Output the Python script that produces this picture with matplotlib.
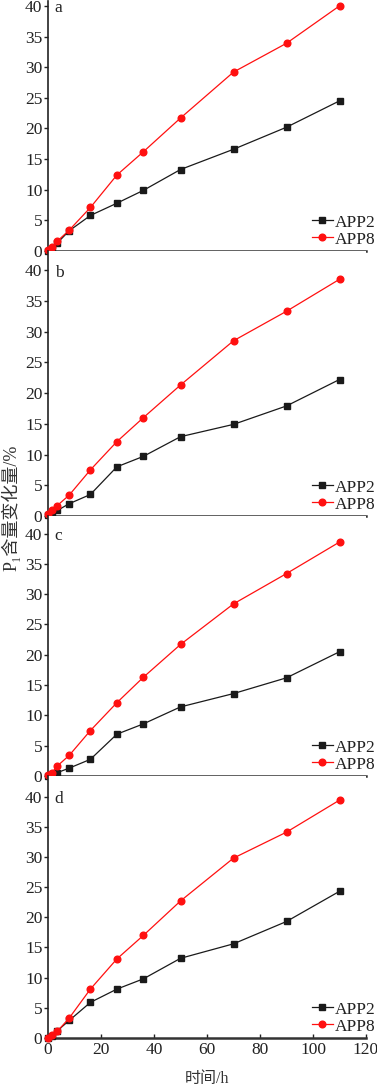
import matplotlib
matplotlib.use("Agg")
import matplotlib.pyplot as plt

plt.rcParams['font.family'] = ['Liberation Serif', 'Noto Sans CJK SC', 'DejaVu Sans']

hours = [0, 1.5, 3.5, 8, 16, 26, 36, 50, 70, 90, 110]
panel_labels = ['a', 'b', 'c', 'd']

app2 = [
    [0.0, 0.3, 1.3, 3.3, 5.8, 7.8, 9.9, 13.3, 16.6, 20.2, 24.5],
    [0.2, 0.4, 0.9, 2.0, 3.5, 8.0, 9.7, 12.9, 14.9, 17.9, 22.2],
    [0.0, 0.3, 0.55, 1.3, 2.75, 6.9, 8.6, 11.4, 13.6, 16.2, 20.5],
    [0.0, 0.3, 1.2, 2.9, 5.9, 8.1, 9.8, 13.2, 15.6, 19.3, 24.3],
]
app8 = [
    [0.1, 0.6, 1.6, 3.4, 7.1, 12.4, 16.2, 21.7, 29.2, 33.9, 40.0],
    [0.4, 1.0, 1.7, 3.4, 7.5, 12.1, 16.0, 21.3, 28.5, 33.3, 38.5],
    [0.1, 0.55, 1.65, 3.4, 7.5, 12.1, 16.3, 21.7, 28.4, 33.4, 38.6],
    [0.0, 0.5, 1.1, 3.3, 8.1, 13.1, 17.0, 22.7, 29.8, 34.1, 39.4],
]
y_ticks = [0, 5, 10, 15, 20, 25, 30, 35, 40]
x_ticks = [0, 20, 40, 60, 80, 100, 120]

W, H = 377, 1086
# (bottom px, top px, ymax) per panel
boxes = [(251, 1, 40.8), (516, 251, 43.1), (776, 516, 42.9), (1038, 776, 43.4)]
left_px, right_px = 48, 366

fig = plt.figure(figsize=(W / 100, H / 100), dpi=100)
text_color = '#222222'

for i, (bot, top, ymax) in enumerate(boxes):
    ax = fig.add_axes([left_px / W, 1 - bot / H, (right_px - left_px) / W, (bot - top) / H])
    ax.plot(hours, app2[i], color='#1a1a1a', marker='s', ms=4.5, lw=0.9,
            label='APP2', clip_on=False, zorder=3)
    ax.plot(hours, app8[i], color='#ff1010', marker='o', ms=4.8, lw=0.9,
            label='APP8', clip_on=False, zorder=3)
    ax.set_xlim(0, 120)
    ax.set_ylim(0, ymax)
    ax.set_yticks(y_ticks)
    ax.spines['top'].set_visible(False)
    ax.spines['right'].set_visible(False)
    ax.spines['left'].set_linewidth(1.2)
    ax.spines['bottom'].set_linewidth(1.8)
    ax.spines['left'].set_color('#222222')
    ax.spines['bottom'].set_color('#333333')
    ax.tick_params(axis='y', direction='out', length=3, width=1, labelsize=12.5,
                   pad=1, colors=text_color)
    if i < 3:
        ax.tick_params(axis='x', bottom=False, labelbottom=False)
    else:
        ax.set_xticks(x_ticks)
        ax.tick_params(axis='x', direction='in', length=3, width=1, labelsize=12.5,
                       pad=3, colors=text_color)
        ax.set_xlabel('时间/h', fontsize=11.5, color='#333333', labelpad=9)
    ax.text(2.5, 39.6, panel_labels[i], fontsize=12.5, va='center', color=text_color)
    ax.legend(loc='lower right', bbox_to_anchor=(1.04, 0.0), frameon=False,
              fontsize=12.5, handlelength=1.2, handletextpad=0.1,
              labelspacing=0.05, borderaxespad=0.1, borderpad=0.1,
              labelcolor=text_color)

fig.text(0.028, 0.532, 'P₁含量变化量/%', rotation=90, fontsize=13,
         ha='center', va='center', color='#333333')

fig.savefig('out.png', dpi=100)
